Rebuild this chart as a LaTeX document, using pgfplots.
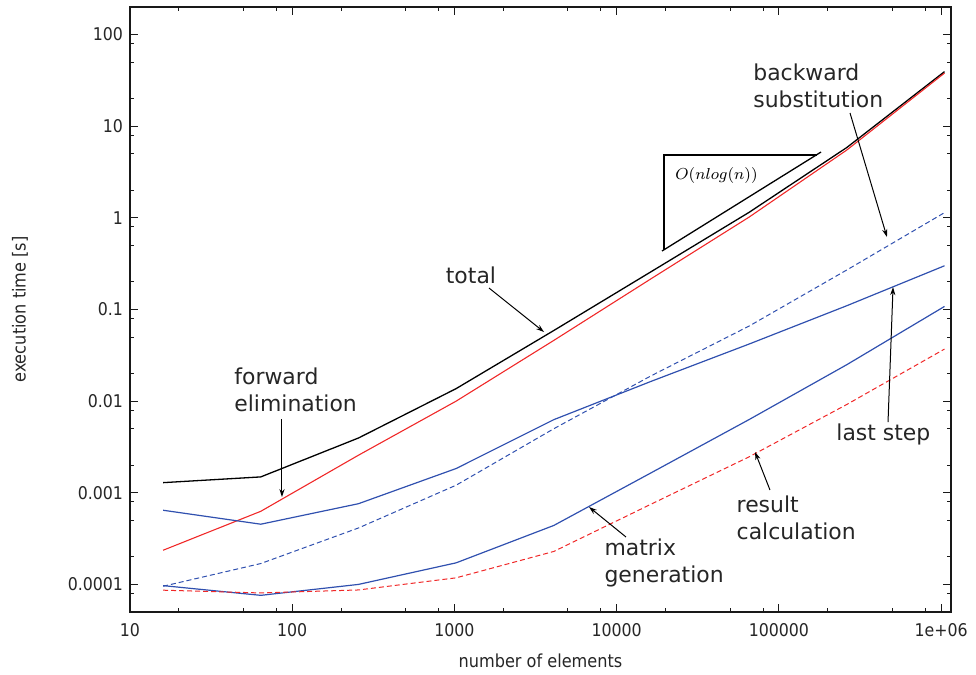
\documentclass[border=0pt]{standalone}
\usepackage{fontspec}
\setmainfont{DejaVu Sans}
\newfontfamily\condfont{DejaVu Sans Condensed}
\usepackage{pgfplots}
\pgfplotsset{compat=1.18}
\usetikzlibrary{arrows.meta}

\definecolor{lsblue}{RGB}{48,80,175}
\definecolor{lsred}{RGB}{240,40,40}

\begin{document}
\begin{tikzpicture}
\path[use as bounding box] (-65bp,-31.5bp) rectangle (423bp,306bp);
\begin{axis}[
  scale only axis, width=410.5bp, height=302.5bp,
  xmode=log, ymode=log,
  xmin=10, xmax=1.15e6, ymin=5e-5, ymax=200,
  xtick={10,100,1000,10000,100000,1000000},
  xticklabels={10,100,1000,10000,100000,1e+06},
  ytick={1e-4,1e-3,1e-2,1e-1,1,10,100},
  yticklabels={0.0001,0.001,0.01,0.1,1,10,100},
  minor xtick={20,50,80,200,500,800,2000,5000,8000,20000,50000,80000,200000,500000,800000},
  minor ytick={8e-5,2e-4,5e-4,8e-4,2e-3,5e-3,8e-3,0.02,0.05,0.08,0.2,0.5,0.8,2,5,8,20,50,80},
  tick align=inside,
  major tick length=4bp, minor tick length=2bp,
  axis line style={line width=0.75bp, black!90},
  every tick/.style={black!90, line width=0.5bp},
  tick label style={font=\condfont\fontsize{8.8}{10}\selectfont, text=black!85},
  /pgf/number format/assume math mode=true,
  xticklabel style={yshift=-2bp},
  xlabel={number of elements}, ylabel={execution time [s]},
  label style={font=\condfont\fontsize{9}{11}\selectfont, text=black!85},
  xlabel style={at={(axis description cs:0.5,-0.081)}, anchor=center},
  ylabel style={at={(axis description cs:-0.134,0.5)}, anchor=center},
  clip=false,
]
% total
\addplot[black, line width=0.65bp] coordinates {
  (16,1.29e-3) (64,1.49e-3) (256,3.96e-3) (1024,0.0137) (4096,0.059)
  (16384,0.26) (65536,1.15) (262144,5.86) (1048576,39.4)};
% forward elimination
\addplot[lsred, line width=0.55bp] coordinates {
  (16,2.36e-4) (64,6.28e-4) (256,2.57e-3) (1024,0.0100) (4096,0.046)
  (16384,0.218) (65536,1.02) (262144,5.5) (1048576,38.0)};
% last step
\addplot[lsblue, line width=0.6bp] coordinates {
  (16,6.45e-4) (64,4.54e-4) (256,7.6e-4) (1024,1.84e-3) (4096,6.28e-3)
  (16384,0.0165) (65536,0.042) (262144,0.11) (1048576,0.30)};
% backward substitution
\addplot[lsblue, line width=0.5bp, dash pattern=on 2.5bp off 1.5bp] coordinates {
  (16,9.55e-5) (64,1.69e-4) (256,4.13e-4) (1024,1.21e-3) (4096,5.0e-3)
  (16384,0.019) (65536,0.066) (262144,0.27) (1048576,1.14)};
% matrix generation
\addplot[lsblue, line width=0.6bp] coordinates {
  (16,9.7e-5) (64,7.6e-5) (256,1.0e-4) (1024,1.72e-4) (4096,4.4e-4)
  (16384,1.66e-3) (65536,6.3e-3) (262144,0.025) (1048576,0.108)};
% result calculation
\addplot[lsred, line width=0.5bp, dash pattern=on 2.5bp off 1.5bp] coordinates {
  (16,8.65e-5) (64,8.07e-5) (256,8.7e-5) (1024,1.18e-4) (4096,2.29e-4)
  (16384,7.55e-4) (65536,2.47e-3) (262144,9.2e-3) (1048576,0.037)};

% slope triangle
\draw[black, line width=0.65bp] (rel axis cs:0.6504,0.5983) -- (rel axis cs:0.6504,0.7554) -- (rel axis cs:0.8368,0.7554);
\draw[black, line width=0.65bp] (rel axis cs:0.648,0.5967) -- (rel axis cs:0.8417,0.7603);
\node[anchor=west, inner sep=0pt, font=\fontsize{8}{9}\selectfont] at (rel axis cs:0.6638,0.7207) {$O(nlog(n))$};

% annotations
\begin{scope}[every node/.style={font=\fontsize{11}{13.5}\selectfont, text=black!85, inner sep=0pt, align=left}]
\node[anchor=center] at (rel axis cs:0.4153,0.557) {total};
\node[anchor=west] at (rel axis cs:0.1267,0.3678) {forward\\elimination};
\node[anchor=west] at (rel axis cs:0.7588,0.8702) {backward\\substitution};
\node[anchor=west] at (rel axis cs:0.8600,0.2942) {last step};
\node[anchor=west] at (rel axis cs:0.7385,0.1562) {result\\calculation};
\node[anchor=west] at (rel axis cs:0.5775,0.081) {matrix\\generation};
\end{scope}
\begin{scope}[black, line width=0.5bp, -{Stealth[length=4bp,width=2.6bp]}]
\draw (rel axis cs:0.4373,0.5355) -- (rel axis cs:0.5043,0.4628);
\draw (rel axis cs:0.1851,0.319) -- (rel axis cs:0.1851,0.1901);
\draw (rel axis cs:0.877,0.8248) -- (rel axis cs:0.922,0.6198);
\draw (rel axis cs:0.9233,0.314) -- (rel axis cs:0.9294,0.537);
\draw (rel axis cs:0.7795,0.2017) -- (rel axis cs:0.7613,0.2645);
\draw (rel axis cs:0.6041,0.124) -- (rel axis cs:0.5591,0.1736);
\end{scope}
\end{axis}
\end{tikzpicture}
\end{document}
